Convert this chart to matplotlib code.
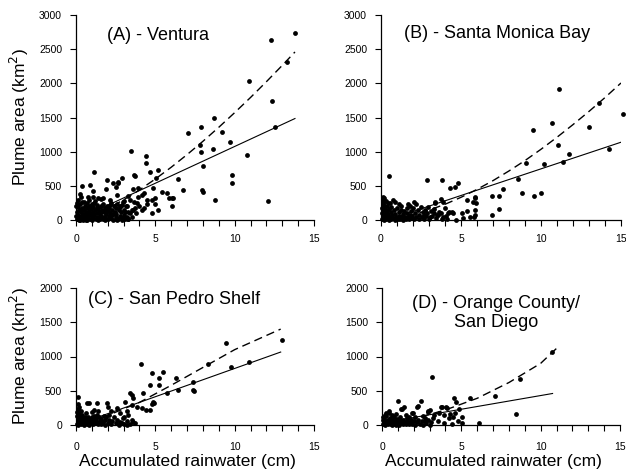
import matplotlib
matplotlib.use("Agg")
import matplotlib.pyplot as plt
from matplotlib.ticker import MultipleLocator

plt.rcParams['font.family'] = ['Liberation Sans', 'DejaVu Sans']

# ---------------- data ----------------
titles = ["(A) - Ventura", "(B) - Santa Monica Bay", "(C) - San Pedro Shelf", "(D) - Orange County/\nSan Diego"]
x_label = "Accumulated rainwater (cm)"
y_label = "Plume area (km$^2$)"
x_ticks = [0, 5, 10, 15]
y_ticks_top = [0, 500, 1000, 1500, 2000, 2500, 3000]
y_ticks_bottom = [0, 500, 1000, 1500, 2000]

a_pts = [(13.8, 2732), (12.28, 2630), (13.3, 2307), (10.9, 2030), (12.36, 1737), (12.56, 1366), (8.7, 1488),
         (7.87, 1366), (7.08, 1268), (9.23, 1293), (7.82, 1093), (8.62, 1040), (7.9, 995), (9.72, 1146),
         (10.78, 946), (8.03, 790), (9.86, 658), (9.85, 546), (7.93, 439), (8.03, 405), (6.73, 442), (6.45, 595),
         (8.78, 295), (12.07, 285), (6.02, 326), (6.1, 320), (6.02, 205),
         (3.47, 1005), (4.44, 937), (4.4, 830), (3.68, 659), (4.65, 708), (5.18, 732), (1.15, 708), (2.87, 620),
         (2.35, 537), (2.66, 537), (1.89, 449), (2.52, 479), (0.88, 512), (0.36, 498), (0.25, 381), (1.05, 425),
         (1.09, 341), (1.4, 317), (0.77, 341), (1.72, 317), (3.6, 449), (3.92, 464), (4.13, 366), (4.86, 464),
         (5.45, 405), (5.74, 390), (5.87, 317), (4.97, 317), (4.76, 293), (5.18, 146), (4.76, 107), (4.13, 146),
         (3.6, 146), (3.82, 244), (3.5, 39), (3.3, 10), (3.02, 283), (3.19, 205), (2.87, 220), (3.08, 122),
         (2.56, 366), (2.14, 293), (3.8, 98), (3.63, 268), (4.26, 390), (4.47, 293), (5.06, 610), (1.94, 585),
         (2.64, 551), (3.73, 649), (4.0, 200), (4.3, 180), (3.9, 330), (3.4, 300), (4.5, 230), (3.7, 180),
         (3.25, 350), (5.0, 240),
         (0.05, 10), (0.1, 40), (0.15, 80), (0.2, 5), (0.2, 150), (0.25, 230), (0.3, 60), (0.3, 120), (0.35, 20),
         (0.4, 180), (0.4, 260), (0.45, 90), (0.5, 30), (0.5, 140), (0.55, 210), (0.6, 0), (0.6, 70), (0.65, 110),
         (0.7, 250), (0.7, 170), (0.75, 40), (0.8, 130), (0.85, 200), (0.9, 15), (0.9, 90), (0.95, 160), (1.0, 60),
         (1.0, 230), (1.05, 120), (1.1, 30), (1.1, 190), (1.15, 80), (1.2, 150), (1.25, 10), (1.3, 100), (1.3, 220),
         (1.35, 50), (1.4, 170), (1.45, 130), (1.5, 20), (1.5, 80), (1.55, 200), (1.6, 60), (1.65, 140), (1.7, 240),
         (1.7, 10), (1.75, 110), (1.8, 170), (1.85, 40), (1.9, 90), (1.95, 210), (2.0, 130), (2.0, 20), (2.05, 60),
         (2.1, 180), (2.15, 100), (2.2, 30), (2.2, 250), (2.25, 150), (2.3, 70), (2.35, 0), (2.4, 200), (2.45, 120),
         (2.5, 40), (2.5, 170), (2.55, 90), (2.6, 230), (2.65, 15), (2.7, 140), (2.75, 60), (2.8, 190), (2.85, 110),
         (2.9, 30), (2.95, 260), (3.0, 80), (3.05, 150), (3.1, 10), (3.15, 200), (3.2, 50), (3.25, 120), (3.3, 20),
         (0.1, 190), (0.15, 300), (0.05, 120), (0.3, 330), (0.5, 270), (0.8, 300), (1.2, 280), (1.6, 310),
         (0.25, 0), (0.45, 0), (0.7, 5), (1.0, 0), (1.4, 0), (1.8, 5), (2.6, 0), (2.9, 5), (0.35, 160), (0.55, 50),
         (0.75, 100), (0.95, 210), (1.15, 250), (1.35, 170), (1.55, 110), (1.75, 50), (1.95, 150), (2.15, 220),
         (2.35, 90), (2.55, 10), (2.75, 210), (3.05, 40), (3.4, 100), (3.5, 150), (0.02, 60), (0.02, 200),
         (0.08, 250), (0.12, 20)]

b_pts = [(11.1, 1918), (13.64, 1718), (15.1, 1547), (9.47, 1318), (10.68, 1415), (12.97, 1366), (11.06, 1098),
         (11.72, 962), (14.22, 1035), (9.07, 830), (10.18, 820), (11.35, 849), (8.59, 596), (7.63, 454),
         (6.93, 351), (7.38, 356), (8.8, 391), (9.59, 351), (9.97, 391), (7.4, 161), (6.93, 78), (5.88, 341),
         (0.5, 649), (2.86, 586), (3.8, 586), (4.63, 488), (4.8, 546), (4.32, 464), (3.9, 268), (3.38, 244),
         (2.96, 195), (2.08, 268), (1.67, 229), (0.88, 268), (0.56, 244), (0.77, 293), (0.14, 341), (0.1, 300),
         (5.36, 293), (5.88, 317), (5.78, 268), (5.88, 146), (5.05, 98), (4.67, 0), (4.42, 122), (4.21, 107),
         (3.59, 73), (3.9, 49), (5.57, 49), (5.88, 73), (5.96, 244), (5.8, 49), (5.4, 137), (5.1, 24), (4.53, 98),
         (4.26, 122), (4.04, 59), (3.72, 98), (3.5, 73), (3.04, 49), (2.66, 73), (3.72, 307), (3.4, 259),
         (0.05, 20), (0.05, 100), (0.08, 180), (0.1, 250), (0.12, 60), (0.15, 140), (0.18, 0), (0.2, 210),
         (0.22, 90), (0.25, 30), (0.28, 160), (0.3, 110), (0.32, 10), (0.35, 60), (0.38, 200), (0.4, 130),
         (0.42, 30), (0.45, 90), (0.5, 160), (0.5, 0), (0.55, 50), (0.6, 120), (0.62, 15), (0.65, 190), (0.7, 70),
         (0.75, 30), (0.8, 140), (0.85, 5), (0.9, 90), (0.95, 40), (1.0, 180), (1.05, 20), (1.1, 110), (1.15, 60),
         (1.2, 10), (1.25, 150), (1.3, 40), (1.35, 90), (1.4, 0), (1.45, 130), (1.5, 50), (1.55, 20), (1.6, 100),
         (1.65, 170), (1.7, 40), (1.75, 10), (1.8, 80), (1.85, 130), (1.9, 30), (1.95, 60), (2.0, 180), (2.05, 10),
         (2.1, 100), (2.2, 50), (2.3, 140), (2.35, 20), (2.4, 80), (2.5, 190), (2.55, 40), (2.6, 110), (2.7, 10),
         (2.75, 150), (2.8, 60), (2.9, 100), (3.0, 20), (3.1, 130), (3.2, 60), (3.3, 160), (3.45, 30), (3.6, 120),
         (3.8, 10), (4.0, 170), (4.1, 20), (3.3, 100), (0.2, 320), (0.3, 280), (0.15, 230), (0.45, 250),
         (1.1, 230), (1.25, 200), (2.2, 240), (1.8, 210)]

c_pts = [(13.0, 1235), (9.45, 1193), (9.75, 852), (10.9, 925), (8.3, 890), (4.09, 886), (7.38, 633), (7.38, 511),
         (7.42, 495), (6.43, 511), (5.74, 462), (6.33, 681), (5.49, 779), (4.76, 764), (5.24, 681), (4.65, 584),
         (5.24, 584), (4.23, 462), (4.86, 341), (4.65, 219), (4.44, 219), (4.13, 243), (3.5, 438), (3.4, 462),
         (3.6, 390), (3.5, 297), (3.19, 200), (3.82, 267), (3.08, 341), (3.71, 24), (3.5, 73), (4.9, 320),
         (4.8, 300), (0.15, 404), (0.67, 326), (0.84, 316), (1.3, 316), (1.15, 219), (1.93, 316), (2.03, 268),
         (2.56, 243), (2.76, 170), (3.0, 120), (3.2, 60), (2.9, 30), (3.3, 150),
         (0.05, 20), (0.05, 130), (0.08, 190), (0.1, 70), (0.12, 240), (0.15, 0), (0.18, 100), (0.2, 160),
         (0.22, 40), (0.25, 80), (0.3, 120), (0.32, 10), (0.35, 60), (0.4, 150), (0.42, 30), (0.45, 90), (0.5, 0),
         (0.55, 120), (0.6, 50), (0.65, 80), (0.7, 20), (0.75, 110), (0.8, 60), (0.85, 0), (0.9, 90), (0.95, 40),
         (1.0, 120), (1.05, 10), (1.1, 70), (1.15, 130), (1.2, 30), (1.25, 90), (1.3, 150), (1.35, 50), (1.4, 10),
         (1.45, 110), (1.5, 60), (1.55, 20), (1.6, 90), (1.7, 40), (1.75, 130), (1.8, 0), (1.85, 70), (1.9, 110),
         (2.0, 30), (2.05, 80), (2.1, 150), (2.2, 10), (2.3, 60), (2.4, 110), (2.5, 30), (2.6, 80), (2.7, 0),
         (2.8, 50), (2.95, 100), (3.05, 10), (3.2, 0), (3.4, 20), (3.6, 40), (0.3, 200), (0.6, 170), (1.0, 190),
         (1.4, 200), (0.2, 260), (2.2, 200), (0.1, 300)]

d_pts = [(10.7, 1059), (8.67, 668), (7.1, 424), (8.47, 156), (6.13, 24), (3.14, 696), (5.53, 390), (4.51, 395),
         (4.68, 341), (4.87, 229), (5.06, 122), (5.06, 24), (1.0, 355), (2.47, 355), (2.23, 267), (2.3, 280),
         (1.41, 267), (1.2, 234), (1.9, 180), (2.89, 195), (3.0, 220), (0.44, 205), (0.28, 180), (1.23, 229),
         (1.97, 180), (2.92, 205), (3.77, 268), (4.09, 244), (4.3, 156), (3.24, 107), (4.05, 267), (3.73, 258),
         (4.6, 180), (4.5, 120), (4.2, 100), (3.9, 140), (3.6, 170), (3.5, 60), (3.9, 30), (4.4, 20), (4.8, 60),
         (3.3, 150), (2.6, 130), (2.7, 60),
         (0.05, 10), (0.05, 70), (0.08, 120), (0.1, 40), (0.15, 90), (0.2, 0), (0.22, 60), (0.25, 130), (0.3, 30),
         (0.35, 80), (0.4, 10), (0.45, 50), (0.5, 100), (0.55, 20), (0.6, 70), (0.65, 0), (0.7, 40), (0.75, 110),
         (0.8, 20), (0.85, 60), (0.9, 0), (0.95, 90), (1.0, 30), (1.05, 60), (1.1, 0), (1.15, 120), (1.2, 40),
         (1.3, 80), (1.35, 10), (1.4, 50), (1.5, 20), (1.55, 100), (1.6, 60), (1.7, 10), (1.75, 40), (1.8, 80),
         (1.9, 20), (2.0, 60), (2.05, 110), (2.1, 0), (2.2, 40), (2.3, 80), (2.4, 20), (2.5, 60), (2.6, 0),
         (2.7, 100), (2.8, 30), (2.9, 70), (3.0, 0), (3.1, 40), (0.2, 150), (0.45, 170), (0.6, 140), (0.9, 160),
         (1.5, 150), (1.7, 120)]

# fitted lines
a_lin_x = [0, 13.8]
a_lin_y = [0, 1485]
a_fit_x = [0, 1, 2, 3, 4, 5, 6, 7, 8, 9, 10, 11, 12, 13, 13.8]
a_fit_y = [0, 64, 168, 295, 440, 600, 772, 957, 1152, 1357, 1571, 1793, 2024, 2263, 2459]

b_lin_x = [0.4, 15.1]
b_lin_y = [0, 1146]
b_fit_x = [0, 1, 2, 3, 4, 5, 6, 7, 8, 9, 10, 11, 12, 13, 14, 15]
b_fit_y = [0, 24, 74, 144, 230, 332, 448, 576, 718, 870, 1035, 1211, 1396, 1589, 1792, 2005]

c_lin_x = [0, 12.9]
c_lin_y = [0, 1065]
c_fit_x = [0, 2, 4, 6, 8, 10, 12.9]
c_fit_y = [0, 140, 330, 580, 840, 1100, 1400]

d_lin_x = [0, 10.75]
d_lin_y = [30, 460]
d_fit_x = [0, 2, 4, 6, 8, 10, 11.1]
d_fit_y = [0, 90, 220, 390, 620, 900, 1140]

# ---------------- figure ----------------
fig = plt.figure(figsize=(6.26, 4.72), dpi=100)
W, H = 626, 472

def px_axes(l, r, t, b):
    return fig.add_axes([l / W, 1 - b / H, (r - l) / W, (b - t) / H])

axA = px_axes(76, 314, 15, 220)
axB = px_axes(381, 621, 15, 220)
axC = px_axes(76, 314, 288, 425)
axD = px_axes(382, 620, 288, 425)

panels = [
    (axA, a_pts, a_lin_x, a_lin_y, a_fit_x, a_fit_y, 3000, y_ticks_top, titles[0], (0.13, 0.902, 'left'), 6),
    (axB, b_pts, b_lin_x, b_lin_y, b_fit_x, b_fit_y, 3000, y_ticks_top, titles[1], (0.095, 0.912, 'left'), 6),
    (axC, c_pts, c_lin_x, c_lin_y, c_fit_x, c_fit_y, 2000, y_ticks_bottom, titles[2], (0.049, 0.917, 'left'), 8.5),
    (axD, d_pts, d_lin_x, d_lin_y, d_fit_x, d_fit_y, 2000, y_ticks_bottom, titles[3], (0.478, 0.818, 'center'), 8.5),
]

for ax, pts, lx, ly, fx, fy, ymax, yt, title, (tx, ty, tha), xpad in panels:
    xs = [p[0] for p in pts]
    ys = [p[1] for p in pts]
    ax.scatter(xs, ys, s=12, color='black', linewidths=0, clip_on=False, zorder=3)
    ax.plot(lx, ly, color='black', lw=0.8, zorder=2)
    ax.plot(fx, fy, color='black', lw=1.0, dashes=(6, 3.5), zorder=2)
    ax.set_xlim(0, 15)
    ax.set_ylim(0, ymax)
    ax.set_xticks(x_ticks)
    ax.xaxis.set_minor_locator(MultipleLocator(1))
    ax.set_yticks(yt)
    for s in ['top', 'right']:
        ax.spines[s].set_visible(False)
    for s in ['left', 'bottom']:
        ax.spines[s].set_linewidth(0.9)
    ax.tick_params(axis='x', which='both', direction='out', length=4, width=0.8, labelsize=7.5, pad=xpad)
    ax.tick_params(axis='y', which='both', direction='out', length=4, width=0.8, labelsize=7.5, pad=6)
    ax.text(tx, ty, title, transform=ax.transAxes, ha=tha, va='center', fontsize=13, linespacing=1.1)

for ax in (axA, axC):
    ax.set_ylabel(y_label, fontsize=12.5, labelpad=6)
for ax in (axC, axD):
    ax.set_xlabel(x_label, fontsize=12.5, labelpad=2)
    ax.xaxis.set_label_coords(0.467, -0.215)

fig.savefig("out.png", dpi=100)
